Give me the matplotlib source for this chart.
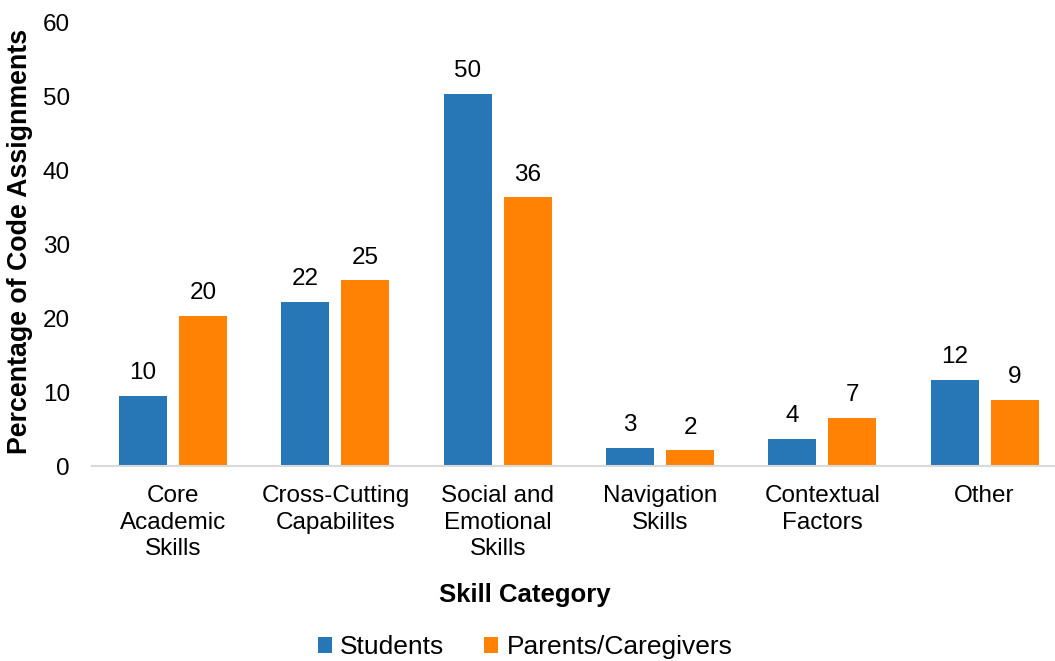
import matplotlib
matplotlib.use("Agg")
import matplotlib.pyplot as plt
import numpy as np

categories = ["Core\nAcademic\nSkills", "Cross-Cutting\nCapabilites", "Social and\nEmotional\nSkills",
              "Navigation\nSkills", "Contextual\nFactors", "Other"]
students = [9.5, 22.2, 50.3, 2.5, 3.7, 11.6]
parents = [20.3, 25.1, 36.3, 2.1, 6.5, 8.9]
series_names = ["Students", "Parents/Caregivers"]

BLUE = "#2776B6"
ORANGE = "#FF8205"

plt.rcParams["font.family"] = ["Liberation Sans", "DejaVu Sans"]

fig = plt.figure(figsize=(10.55, 6.61), dpi=100)
ax = fig.add_axes([0.0872, 0.295, 0.923, 0.6717])

x = np.arange(len(categories))
w = 0.296
off = 0.185
b1 = ax.bar(x - off, students, w, color=BLUE, label=series_names[0])
b2 = ax.bar(x + off, parents, w, color=ORANGE, label=series_names[1])

def half_up(v):
    # round .5 upwards like the spreadsheet does
    return str(int(v + 0.5))

for bars, vals in ((b1, students), (b2, parents)):
    for rect, v in zip(bars, vals):
        ax.annotate(half_up(v), (rect.get_x() + rect.get_width() / 2, v),
                    xytext=(0, 12), textcoords="offset points",
                    ha="center", va="baseline", fontsize=17.5, color="#000000")

ax.set_xlim(-0.5, len(categories) - 0.5)
ax.set_ylim(0, 60)
ax.set_yticks(range(0, 61, 10))
ax.set_xticks(x)
ax.set_xticklabels(categories, fontsize=17.5, linespacing=1.25)
ax.tick_params(axis="both", length=0, labelsize=17.5, colors="#000000")
ax.tick_params(axis="x", pad=14)
ax.tick_params(axis="y", pad=16)

for side in ("left", "right", "top"):
    ax.spines[side].set_visible(False)
ax.spines["bottom"].set_color("#d9d9d9")
ax.spines["bottom"].set_linewidth(1.5)

ax.set_ylabel("Percentage of Code Assignments", fontsize=19.3, fontweight="bold")
ax.yaxis.set_label_coords(-0.0606, 0.5056)
fig.text(0.4976, 0.0998, "Skill Category", ha="center", va="center", fontsize=18.5, fontweight="bold")

fig.legend(handles=[b1, b2], loc="center", bbox_to_anchor=(0.4976, 0.021), ncol=2,
           frameon=False, fontsize=19, handlelength=0.55, handleheight=0.55,
           handletextpad=0.3, columnspacing=1.5, borderpad=0.2)

fig.savefig("out.png", dpi=100)
